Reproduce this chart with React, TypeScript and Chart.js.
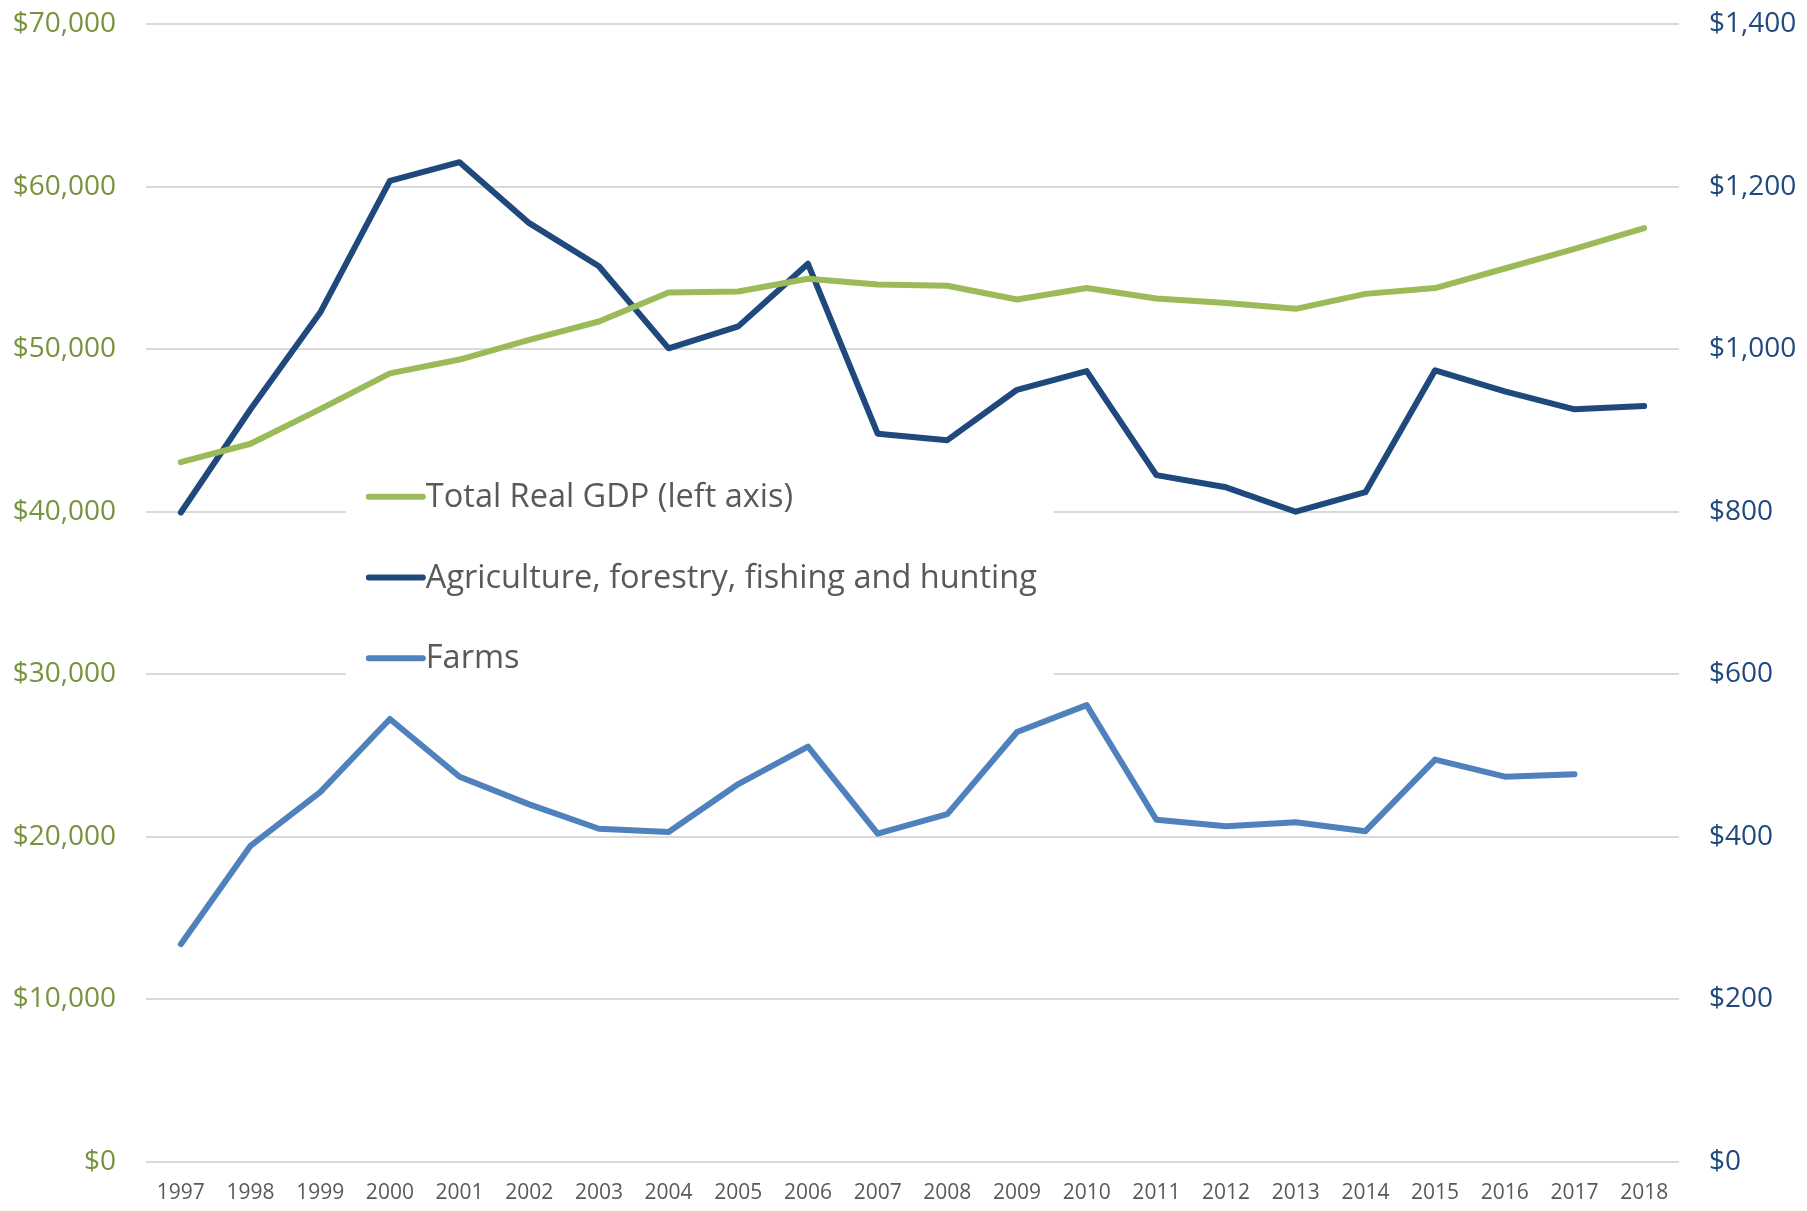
import React, { useEffect, useRef } from "react";
import { Chart, registerables } from "chart.js";

Chart.register(...registerables);

const years = ["1997","1998","1999","2000","2001","2002","2003","2004","2005","2006","2007","2008","2009","2010","2011","2012","2013","2014","2015","2016","2017","2018"];

const totalRealGdp = [43050, 44180, 46310, 48510, 49360, 50570, 51700, 53480, 53550, 54330, 53970, 53900, 53050, 53760, 53120, 52840, 52480, 53400, 53760, 54960, 56170, 57450];

const agriculture = [799, 926, 1045, 1207, 1230, 1155, 1102, 1001, 1028, 1105, 896, 888, 950, 973, 845, 830, 800, 824, 974, 948, 926, 930];

const farms = [268, 389, 455, 545, 474, 440, 410, 406, 465, 511, 404, 428, 529, 562, 421, 413, 418, 407, 495, 474, 477, null];

const leftTicks = [0, 10000, 20000, 30000, 40000, 50000, 60000, 70000];
const rightTicks = [0, 200, 400, 600, 800, 1000, 1200, 1400];

const seriesLabels = ["Total Real GDP (left axis)", "Agriculture, forestry, fishing and hunting", "Farms"];
const seriesColors = ["#9BBB59", "#1F497D", "#4F81BD"];

const FONT = "'Open Sans', 'Noto Sans', sans-serif";

function fmtDollar(v: number) {
  return "$" + Math.round(v).toLocaleString("en-US");
}

const legendPlugin = {
  id: "insideLegend",
  beforeDatasetsDraw(chart: any) {
    const ctx = chart.ctx;
    const x = chart.scales.x;
    const y = chart.scales.y;
    const left = x.getPixelForValue(0) + 165;
    const right = x.getPixelForValue(13) - 33;
    const top = y.getPixelForValue(43000);
    const bottom = y.getPixelForValue(28500);
    ctx.save();
    ctx.fillStyle = "#FFFFFF";
    ctx.fillRect(left, top, right - left, bottom - top);
    ctx.restore();
  },
  afterDatasetsDraw(chart: any) {
    const ctx = chart.ctx;
    const x = chart.scales.x;
    const y = chart.scales.y;
    const lineStart = x.getPixelForValue(0) + 188;
    const lineEnd = lineStart + 54;
    const textX = lineEnd + 3;
    const rowValues = [40920, 35960, 30990];
    ctx.save();
    ctx.font = `32.5px ${FONT}`;
    ctx.textBaseline = "middle";
    ctx.textAlign = "left";
    chart.data.datasets.forEach((ds: any, i: number) => {
      const cy = y.getPixelForValue(rowValues[i]);
      ctx.strokeStyle = ds.borderColor;
      ctx.lineWidth = 6;
      ctx.lineCap = "round";
      ctx.beginPath();
      ctx.moveTo(lineStart, cy);
      ctx.lineTo(lineEnd, cy);
      ctx.stroke();
      ctx.fillStyle = "#595959";
      ctx.fillText(ds.label, textX, cy + 1);
    });
    ctx.restore();
  },
};

export default function App() {
  const canvasRef = useRef<HTMLCanvasElement | null>(null);

  useEffect(() => {
    document.body.style.margin = "0";
    const canvas = canvasRef.current;
    if (!canvas) return;
    const common = {
      borderWidth: 6,
      pointRadius: 0,
      tension: 0,
      borderCapStyle: "round",
      borderJoinStyle: "round",
    };
    const chart = new Chart(canvas, {
      type: "line",
      data: {
        labels: years,
        datasets: [
          {
            ...common,
            label: seriesLabels[0],
            data: totalRealGdp,
            borderColor: seriesColors[0],
            backgroundColor: seriesColors[0],
            yAxisID: "y",
          },
          {
            ...common,
            label: seriesLabels[1],
            data: agriculture,
            borderColor: seriesColors[1],
            backgroundColor: seriesColors[1],
            yAxisID: "y1",
          },
          {
            ...common,
            label: seriesLabels[2],
            data: farms,
            borderColor: seriesColors[2],
            backgroundColor: seriesColors[2],
            yAxisID: "y1",
          },
        ],
      },
      options: {
        animation: false,
        responsive: false,
        maintainAspectRatio: false,
        layout: { padding: { top: 24, left: 0, right: 0, bottom: 0 } },
        plugins: {
          legend: { display: false },
          tooltip: { enabled: false },
        },
        scales: {
          x: {
            offset: true,
            grid: { display: false, drawTicks: false },
            border: { display: false },
            ticks: {
              color: "#595959",
              font: { family: FONT, size: 21 },
              padding: 18,
              maxRotation: 0,
              autoSkip: false,
            },
            afterFit(scale: any) {
              scale.height = 49;
              scale.paddingLeft = 0;
              scale.paddingRight = 0;
            },
          },
          y: {
            position: "left",
            min: 0,
            max: 70000,
            afterBuildTicks(scale: any) {
              scale.ticks = leftTicks.map((v) => ({ value: v }));
            },
            grid: { color: "#D9D9D9", lineWidth: 2, drawTicks: false },
            border: { display: false },
            ticks: {
              color: "#77933C",
              font: { family: FONT, size: 28 },
              padding: 30,
              callback: (v: any) => fmtDollar(Number(v)),
            },
            afterFit(scale: any) {
              scale.width = 146;
              scale.paddingTop = 0;
              scale.paddingBottom = 0;
            },
          },
          y1: {
            position: "right",
            min: 0,
            max: 1400,
            afterBuildTicks(scale: any) {
              scale.ticks = rightTicks.map((v) => ({ value: v }));
            },
            grid: { display: false, drawTicks: false },
            border: { display: false },
            ticks: {
              color: "#1F497D",
              font: { family: FONT, size: 28 },
              padding: 30,
              callback: (v: any) => fmtDollar(Number(v)),
            },
            afterFit(scale: any) {
              scale.width = 128;
              scale.paddingTop = 0;
              scale.paddingBottom = 0;
            },
          },
        },
      },
      plugins: [legendPlugin],
    });
    return () => {
      chart.destroy();
    };
  }, []);

  return (
    <div style={{ width: 1807, height: 1211 }}>
      <canvas ref={canvasRef} width={1807} height={1211} style={{ display: "block", width: 1807, height: 1211 }} />
    </div>
  );
}
